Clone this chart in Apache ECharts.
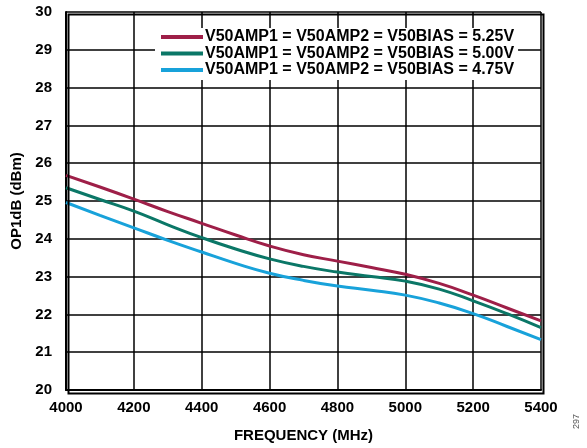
<!DOCTYPE html>
<html>
<head>
<meta charset="UTF-8">
<title>OP1dB vs Frequency</title>
<script src="https://cdn.jsdelivr.net/npm/echarts@6/dist/echarts.min.js"></script>
<style>
  html, body { margin: 0; padding: 0; background: #fff; }
  #main { width: 587px; height: 448px; }
</style>
</head>
<body>
<div id="main"></div>
<script>
// frequency points (MHz)
var freq = [4000, 4100, 4200, 4300, 4400, 4500, 4600, 4700, 4800, 4900, 5000, 5100, 5200, 5300, 5400];
// OP1dB (dBm) per supply setting
var op1db_525 = [25.68, 25.37, 25.05, 24.72, 24.41, 24.10, 23.81, 23.58, 23.41, 23.24, 23.06, 22.82, 22.51, 22.17, 21.83];
var op1db_500 = [25.35, 25.04, 24.73, 24.37, 24.03, 23.73, 23.47, 23.27, 23.12, 23.00, 22.88, 22.67, 22.36, 22.02, 21.65];
var op1db_475 = [24.96, 24.62, 24.29, 23.96, 23.65, 23.35, 23.09, 22.90, 22.75, 22.64, 22.51, 22.30, 22.02, 21.68, 21.33];
var seriesNames = [
  'V50AMP1 = V50AMP2 = V50BIAS = 5.25V',
  'V50AMP1 = V50AMP2 = V50BIAS = 5.00V',
  'V50AMP1 = V50AMP2 = V50BIAS = 4.75V'
];
var colors = ['#9e1f48', '#0b7767', '#18a2da'];

function pairs(ys) {
  var out = [];
  for (var i = 0; i < freq.length; i++) out.push([freq[i], ys[i]]);
  return out;
}

var chart = echarts.init(document.getElementById('main'));
var font = 'Liberation Sans, Arial, sans-serif';

var option = {
  animation: false,
  backgroundColor: '#fff',
  grid: { left: 66, top: 12, width: 475, height: 379 },
  legend: {
    orient: 'vertical',
    left: 155,
    top: 28,
    backgroundColor: '#fff',
    padding: [1, 4, 2, 6],
    itemWidth: 42,
    itemHeight: 4,
    itemGap: 0.5,
    icon: 'rect',
    textStyle: { fontFamily: font, fontSize: 16, fontWeight: 'bold', color: '#000', padding: [0, 0, 0, -3] },
    data: seriesNames
  },
  xAxis: {
    type: 'value',
    min: 4000, max: 5400, interval: 200,
    name: 'FREQUENCY (MHz)',
    nameLocation: 'middle',
    nameGap: 38,
    nameTextStyle: { fontFamily: font, fontSize: 15, fontWeight: 'bold', color: '#000' },
    axisLine: { show: true, lineStyle: { color: '#000', width: 2 } },
    axisTick: { show: false },
    axisLabel: {
      fontFamily: font, fontSize: 15, fontWeight: 'bold', color: '#000', margin: 10,
      formatter: function (v) { return String(v); }
    },
    splitLine: { show: true, lineStyle: { color: '#000', width: 1.5 } }
  },
  yAxis: {
    type: 'value',
    min: 20, max: 30, interval: 1,
    name: 'OP1dB (dBm)',
    nameLocation: 'middle',
    nameGap: 37,
    nameRotate: 90,
    nameTextStyle: { fontFamily: font, fontSize: 15, fontWeight: 'bold', color: '#000' },
    axisLine: { show: true, lineStyle: { color: '#000', width: 2 } },
    axisTick: { show: false },
    axisLabel: { fontFamily: font, fontSize: 15, fontWeight: 'bold', color: '#000', margin: 14 },
    splitLine: { show: true, lineStyle: { color: '#000', width: 1.5 } }
  },
  graphic: [
    { type: 'rect', left: 66, top: 12, shape: { width: 475, height: 379 }, style: { fill: 'none', stroke: '#000', lineWidth: 2 }, z: 5 },
    { type: 'text', left: 572, top: 414, rotation: Math.PI / 2, style: { text: '297', fontFamily: font, fontSize: 9, fill: '#555' } }
  ],
  series: [
    { name: seriesNames[0], type: 'line', smooth: true, showSymbol: false, data: pairs(op1db_525), lineStyle: { color: colors[0], width: 3 }, itemStyle: { color: colors[0] }, z: 3 },
    { name: seriesNames[1], type: 'line', smooth: true, showSymbol: false, data: pairs(op1db_500), lineStyle: { color: colors[1], width: 3 }, itemStyle: { color: colors[1] }, z: 3 },
    { name: seriesNames[2], type: 'line', smooth: true, showSymbol: false, data: pairs(op1db_475), lineStyle: { color: colors[2], width: 3 }, itemStyle: { color: colors[2] }, z: 3 }
  ]
};
chart.setOption(option);
</script>
</body>
</html>
